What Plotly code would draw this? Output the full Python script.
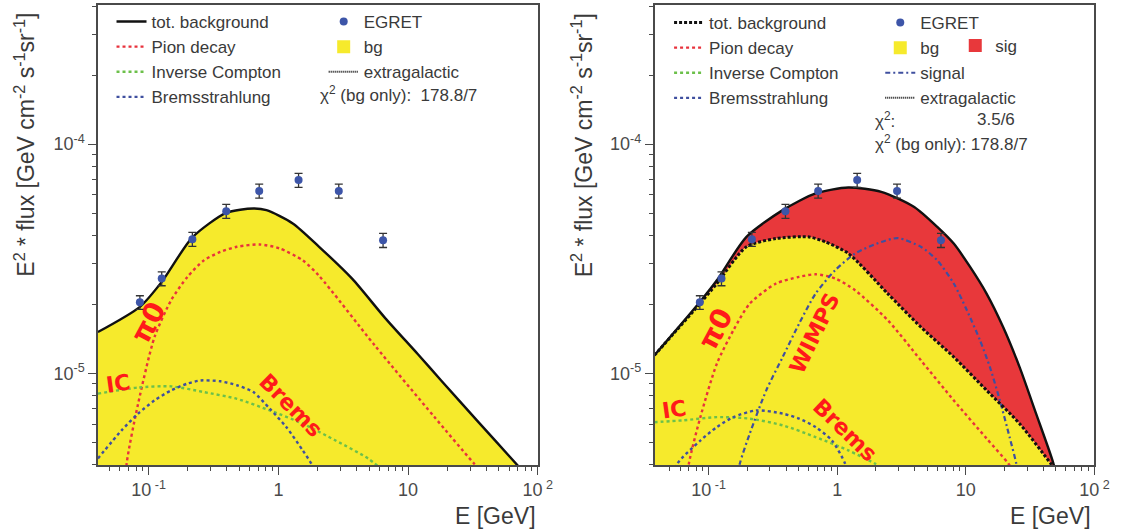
import plotly.graph_objects as go

# ---------------- data ----------------
egret_E = [0.0855, 0.126, 0.217, 0.396, 0.711, 1.43, 2.92, 6.41]
egret_flux = [2.04e-5, 2.59e-5, 3.85e-5, 5.10e-5, 6.25e-5, 6.97e-5, 6.25e-5, 3.81e-5]
egret_err = [1.4e-6, 1.8e-6, 2.7e-6, 3.6e-6, 4.4e-6, 4.9e-6, 4.4e-6, 2.7e-6]

# left panel (background only)
L_tot_E = [0.0406, 0.0855, 0.126, 0.217, 0.396, 0.641, 0.809, 1.29, 2.06, 3.70, 6.63, 11.9, 17.9, 35.0, 68.6, 100]
L_tot_F = [1.514e-5, 1.950e-5, 2.506e-5, 3.917e-5, 5.012e-5, 5.236e-5, 5.152e-5, 4.508e-5, 3.565e-5,
           2.588e-5, 1.746e-5, 1.211e-5, 9.33e-6, 6.11e-6, 4.01e-6, 3.16e-6]
L_pion_E = [0.0637, 0.0676, 0.0829, 0.111, 0.149, 0.199, 0.267, 0.357, 0.478, 0.720, 1.02, 1.54, 2.06,
            5.56, 15.9, 32.1, 64.7]
L_pion_F = [2.29e-6, 4.04e-6, 7.38e-6, 1.442e-5, 2.084e-5, 2.636e-5, 3.112e-5, 3.388e-5, 3.565e-5,
            3.648e-5, 3.508e-5, 3.112e-5, 2.661e-5, 1.318e-5, 6.46e-6, 4.05e-6, 2.65e-6]
L_ic_E = [0.0406, 0.0829, 0.149, 0.267, 0.478, 0.857, 1.54, 2.76, 4.94, 7.89]
L_ic_F = [8.15e-6, 8.67e-6, 8.77e-6, 8.28e-6, 7.74e-6, 6.89e-6, 6.03e-6, 5.09e-6, 4.24e-6, 3.41e-6]
L_brems_E = [0.0406, 0.0618, 0.0829, 0.111, 0.149, 0.199, 0.251, 0.357, 0.478, 0.641, 0.857, 1.15,
             1.54, 1.83, 2.12]
L_brems_F = [4.25e-6, 5.64e-6, 6.67e-6, 7.62e-6, 8.43e-6, 9.02e-6, 9.31e-6, 9.23e-6, 8.87e-6, 8.28e-6,
             7.01e-6, 5.83e-6, 4.61e-6, 3.96e-6, 3.24e-6]

# right panel (background + WIMP signal)
R_bg_E = [0.0379, 0.0507, 0.0815, 0.116, 0.197, 0.335, 0.604, 0.811, 1.22, 2.47, 4.47, 8.06, 14.5,
          26.2, 45.8, 60]
R_bg_F = [1.199e-5, 1.442e-5, 1.950e-5, 2.466e-5, 3.565e-5, 3.873e-5, 3.936e-5, 3.741e-5, 3.334e-5,
          2.228e-5, 1.592e-5, 1.178e-5, 8.43e-6, 6.03e-6, 4.04e-6, 3.31e-6]
R_tot_E = [0.0379, 0.0815, 0.116, 0.197, 0.377, 0.679, 1.22, 2.20, 3.97, 6.00, 8.06, 10.8, 14.5, 19.5,
           26.2, 35.2, 47.2, 54.7]
R_tot_F = [1.199e-5, 1.982e-5, 2.547e-5, 3.936e-5, 5.152e-5, 6.095e-5, 6.471e-5, 6.194e-5, 5.321e-5,
           4.355e-5, 3.681e-5, 2.911e-5, 2.228e-5, 1.592e-5, 1.064e-5, 6.67e-6, 4.17e-6, 3.08e-6]
R_sig_E = [0.16, 0.175, 0.209, 0.281, 0.377, 0.506, 0.679, 0.966, 1.38, 2.20, 2.96, 4.47, 6.00, 8.06,
           10.2, 12.9, 15.4, 18.4, 21.9, 24.7, 27]
R_sig_F = [3.08e-6, 4.04e-6, 5.46e-6, 8.43e-6, 1.178e-5, 1.648e-5, 2.228e-5, 2.818e-5, 3.334e-5,
           3.741e-5, 3.890e-5, 3.565e-5, 3.112e-5, 2.466e-5, 1.884e-5, 1.393e-5, 1.064e-5, 7.62e-6,
           5.27e-6, 4.04e-6, 3.09e-6]
R_pion_E = [0.0652, 0.0703, 0.0863, 0.116, 0.156, 0.209, 0.335, 0.506, 0.679, 0.966, 1.38, 2.48, 4.47,
            8.06, 14.5, 21.4, 27]
R_pion_F = [2.79e-6, 4.04e-6, 6.44e-6, 1.102e-5, 1.542e-5, 2.014e-5, 2.466e-5, 2.636e-5, 2.704e-5,
            2.594e-5, 2.301e-5, 1.702e-5, 1.140e-5, 7.62e-6, 5.20e-6, 4.04e-6, 3.31e-6]
R_ic_E = [0.0379, 0.0643, 0.116, 0.209, 0.377, 0.679, 1.22, 1.96, 2.48]
R_ic_F = [6.12e-6, 6.24e-6, 6.44e-6, 6.34e-6, 5.93e-6, 5.27e-6, 4.61e-6, 4.04e-6, 3.70e-6]
R_brems_E = [0.0466, 0.0572, 0.0863, 0.116, 0.156, 0.235, 0.377, 0.506, 0.679, 0.910, 1.15, 1.26]
R_brems_F = [3.08e-6, 4.04e-6, 5.09e-6, 5.83e-6, 6.44e-6, 6.89e-6, 6.67e-6, 6.34e-6, 5.83e-6,
             5.09e-6, 4.04e-6, 3.24e-6]

x_tickvals = [0.1, 1, 10, 100]
x_ticktext = ["10<sup> -1</sup>", "1", "10", "10<sup> 2</sup>"]
x_minor = [0.05, 0.06, 0.07, 0.08, 0.09, 0.2, 0.3, 0.4, 0.5, 0.6, 0.7, 0.8, 0.9,
           2, 3, 4, 5, 6, 7, 8, 9, 20, 30, 40, 50, 60, 70, 80, 90]
y_tickvals = [1e-5, 1e-4]
y_ticktext = ["10<sup>-5</sup>", "10<sup>-4</sup>"]
y_minor = [4e-6, 5e-6, 6e-6, 7e-6, 8e-6, 9e-6, 2e-5, 3e-5, 4e-5, 5e-5, 6e-5, 7e-5, 8e-5, 9e-5,
           2e-4, 3e-4, 4e-4]

# ---------------- style ----------------
W, H = 1140, 530
FLOOR = 1e-7
YELLOW = "#f6ea2c"
REDFILL = "#e8383b"
RED = "#e8323c"
GREEN = "#6cc04a"
BLUE = "#3f4f9f"
DOT_BLUE = "#3d55a8"
AXC = "#4a4a4a"
TXT = "#3a3a3a"
FONT = "Liberation Sans, Arial, sans-serif"
DASH = "3px,3px"


def px(x):
    return x / W


def py(y):
    return 1 - y / H


fig = go.Figure()


def line(x, y, color, dash, width, name, xa, ya, legend=None, rank=None, shape="spline"):
    fig.add_trace(go.Scatter(
        x=x, y=y, mode="lines", name=name, xaxis=xa, yaxis=ya,
        line=dict(color=color, dash=dash, width=width, shape=shape, smoothing=0.7),
        showlegend=legend is not None, legend=legend or "legend", legendrank=rank or 1000,
        hoverinfo="skip"))


def proxy_square(name, color, legend, rank, xa, ya):
    fig.add_trace(go.Scatter(
        x=[None], y=[None], mode="markers", name=name, xaxis=xa, yaxis=ya,
        marker=dict(symbol="square", size=13, color=color),
        legend=legend, legendrank=rank, showlegend=True))


def proxy_line(name, color, dash, width, legend, rank, xa, ya):
    fig.add_trace(go.Scatter(
        x=[None], y=[None], mode="lines", name=name, xaxis=xa, yaxis=ya,
        line=dict(color=color, dash=dash, width=width),
        legend=legend, legendrank=rank, showlegend=True))


def egret(xa, ya, legend):
    fig.add_trace(go.Scatter(
        x=egret_E, y=egret_flux, mode="markers", name="EGRET", xaxis=xa, yaxis=ya,
        marker=dict(color=DOT_BLUE, size=8),
        error_y=dict(type="data", array=egret_err, color="#333333", thickness=1.3, width=4),
        legend=legend, legendrank=1, showlegend=True))


# ---- left panel ----
fig.add_trace(go.Scatter(x=[L_tot_E[0], L_tot_E[-1]], y=[FLOOR, FLOOR], mode="lines",
                         line=dict(width=0), showlegend=False, hoverinfo="skip", xaxis="x", yaxis="y"))
fig.add_trace(go.Scatter(x=L_tot_E, y=L_tot_F, mode="lines", fill="tonexty", fillcolor=YELLOW,
                         line=dict(width=0, shape="spline", smoothing=0.7), showlegend=False,
                         hoverinfo="skip", xaxis="x", yaxis="y"))
line(L_pion_E, L_pion_F, RED, DASH, 2.4, "Pion decay", "x", "y", "legend", 2)
line(L_ic_E, L_ic_F, GREEN, DASH, 2.4, "Inverse Compton", "x", "y", "legend", 3)
line(L_brems_E, L_brems_F, BLUE, DASH, 2.4, "Bremsstrahlung", "x", "y", "legend", 4)
line(L_tot_E, L_tot_F, "#111111", "solid", 2.4, "tot. background", "x", "y", "legend", 1)
egret("x", "y", "legend2")
proxy_square("bg", YELLOW, "legend2", 2, "x", "y")
proxy_line("extragalactic", "#111111", "1px,1px", 2, "legend2", 3, "x", "y")

# ---- right panel ----
fig.add_trace(go.Scatter(x=[R_bg_E[0], R_bg_E[-1]], y=[FLOOR, FLOOR], mode="lines",
                         line=dict(width=0), showlegend=False, hoverinfo="skip", xaxis="x2", yaxis="y2"))
fig.add_trace(go.Scatter(x=R_bg_E, y=R_bg_F, mode="lines", fill="tonexty", fillcolor=YELLOW,
                         line=dict(width=0, shape="spline", smoothing=0.7), showlegend=False,
                         hoverinfo="skip", xaxis="x2", yaxis="y2"))
fig.add_trace(go.Scatter(x=R_tot_E, y=R_tot_F, mode="lines", fill="tonexty", fillcolor=REDFILL,
                         line=dict(width=0, shape="spline", smoothing=0.7), showlegend=False,
                         hoverinfo="skip", xaxis="x2", yaxis="y2"))
line(R_pion_E, R_pion_F, RED, DASH, 2.4, "Pion decay", "x2", "y2", "legend3", 2)
line(R_ic_E, R_ic_F, GREEN, DASH, 2.4, "Inverse Compton", "x2", "y2", "legend3", 3)
line(R_brems_E, R_brems_F, BLUE, DASH, 2.4, "Bremsstrahlung", "x2", "y2", "legend3", 4)
line(R_sig_E, R_sig_F, BLUE, "5px,3px,2px,3px", 2.2, "signal", "x2", "y2", "legend4", 3)
line(R_bg_E, R_bg_F, "#111111", "3px,2px", 3, "tot. background", "x2", "y2", "legend3", 1)
line(R_tot_E, R_tot_F, "#111111", "solid", 2.4, None, "x2", "y2")
egret("x2", "y2", "legend4")
proxy_square("bg", YELLOW, "legend4", 2, "x2", "y2")
proxy_line("extragalactic", "#111111", "1px,1px", 2, "legend4", 4, "x2", "y2")
proxy_square("sig", REDFILL, "legend5", 1, "x2", "y2")

# ---------------- axes ----------------
tickfont = dict(family=FONT, size=18, color=AXC)


def xaxis(domain, rng, anchor):
    return dict(type="log", range=rng, domain=domain, anchor=anchor,
                tickmode="array", tickvals=x_tickvals, ticktext=x_ticktext, tickfont=tickfont,
                ticks="outside", ticklen=8, tickwidth=1.3, tickcolor=AXC,
                minor=dict(tickmode="array", tickvals=x_minor, ticks="outside", ticklen=4,
                           tickwidth=1.2, tickcolor=AXC, showgrid=False),
                showline=True, linecolor=AXC, linewidth=1.5, mirror=True,
                showgrid=False, zeroline=False, fixedrange=True)


def yaxis(anchor):
    return dict(type="log", range=[-5.40, -3.393], domain=[py(465), py(5)], anchor=anchor,
                tickmode="array", tickvals=y_tickvals, ticktext=y_ticktext, tickfont=tickfont,
                ticks="outside", ticklen=8, tickwidth=1.3, tickcolor=AXC,
                minor=dict(tickmode="array", tickvals=y_minor, ticks="outside", ticklen=4,
                           tickwidth=1.2, tickcolor=AXC, showgrid=False),
                showline=True, linecolor=AXC, linewidth=1.5, mirror=True,
                showgrid=False, zeroline=False, fixedrange=True)


legfont = dict(family=FONT, size=17, color=TXT)


def leg(x, ytop):
    return dict(x=px(x), y=py(ytop), xanchor="left", yanchor="top", bgcolor="rgba(0,0,0,0)",
                borderwidth=0, font=legfont, itemwidth=30, tracegroupgap=0, itemclick=False,
                itemdoubleclick=False, traceorder="normal")


ytitle = "E<sup>2</sup> * flux [GeV cm<sup>-2</sup> s<sup>-1</sup>sr<sup>-1</sup>]"
ann = []
for xc in (25, 590):
    ann.append(dict(text=ytitle, x=px(xc), y=py(145), xref="paper", yref="paper", showarrow=False,
                    textangle=-90, font=dict(family=FONT, size=23, color=TXT),
                    xanchor="center", yanchor="middle"))
for xr in (545, 1108):
    ann.append(dict(text="E [GeV]", x=px(xr), y=py(516), xref="paper", yref="paper", showarrow=False,
                    font=dict(family=FONT, size=23, color=TXT), xanchor="right", yanchor="middle"))

lf = dict(family=FONT, size=17, color=TXT)
ann += [
    dict(text="χ<sup>2</sup> (bg only):  178.8/7", x=px(322), y=py(94), xref="paper", yref="paper",
         showarrow=False, font=lf, xanchor="left", yanchor="middle"),
    dict(text="χ<sup>2</sup>:", x=px(885), y=py(120), xref="paper", yref="paper",
         showarrow=False, font=lf, xanchor="left", yanchor="middle"),
    dict(text="3.5/6", x=px(988), y=py(120), xref="paper", yref="paper",
         showarrow=False, font=lf, xanchor="left", yanchor="middle"),
    dict(text="χ<sup>2</sup> (bg only): 178.8/7", x=px(885), y=py(143), xref="paper", yref="paper",
         showarrow=False, font=lf, xanchor="left", yanchor="middle"),
]

RLAB = "#ff1a1a"
labf = "DejaVu Sans, sans-serif"
for (t, x, y, ang, s) in [("<b>π0</b>", 150, 322, -62, 28), ("<b>IC</b>", 120, 383, -8, 22),
                          ("<b>Brems</b>", 295, 405, 45, 22),
                          ("<b>π0</b>", 725, 328, -62, 28), ("<b>WIMPS</b>", 825, 333, -64, 22),
                          ("<b>IC</b>", 683, 409, -8, 22), ("<b>Brems</b>", 857, 430, 44, 22)]:
    ann.append(dict(text=t, x=px(x), y=py(y), xref="paper", yref="paper", showarrow=False,
                    textangle=ang, font=dict(family=labf, size=s, color=RLAB),
                    xanchor="center", yanchor="middle"))

fig.update_layout(
    width=W, height=H, margin=dict(l=0, r=0, t=0, b=0),
    paper_bgcolor="white", plot_bgcolor="white",
    xaxis=xaxis([px(99.3), px(545)], [-1.391, 2.0], "y"),
    yaxis=yaxis("x"),
    xaxis2=xaxis([px(663.3), px(1109)], [-1.42, 2.0], "y2"),
    yaxis2=yaxis("x2"),
    legend=leg(113, 4),
    legend2=leg(328, 4),
    legend3=leg(678, 5),
    legend4=leg(892, 5),
    legend5=leg(968, 28),
    annotations=ann,
    font=dict(family=FONT),
)

fig.write_html("out.html")
